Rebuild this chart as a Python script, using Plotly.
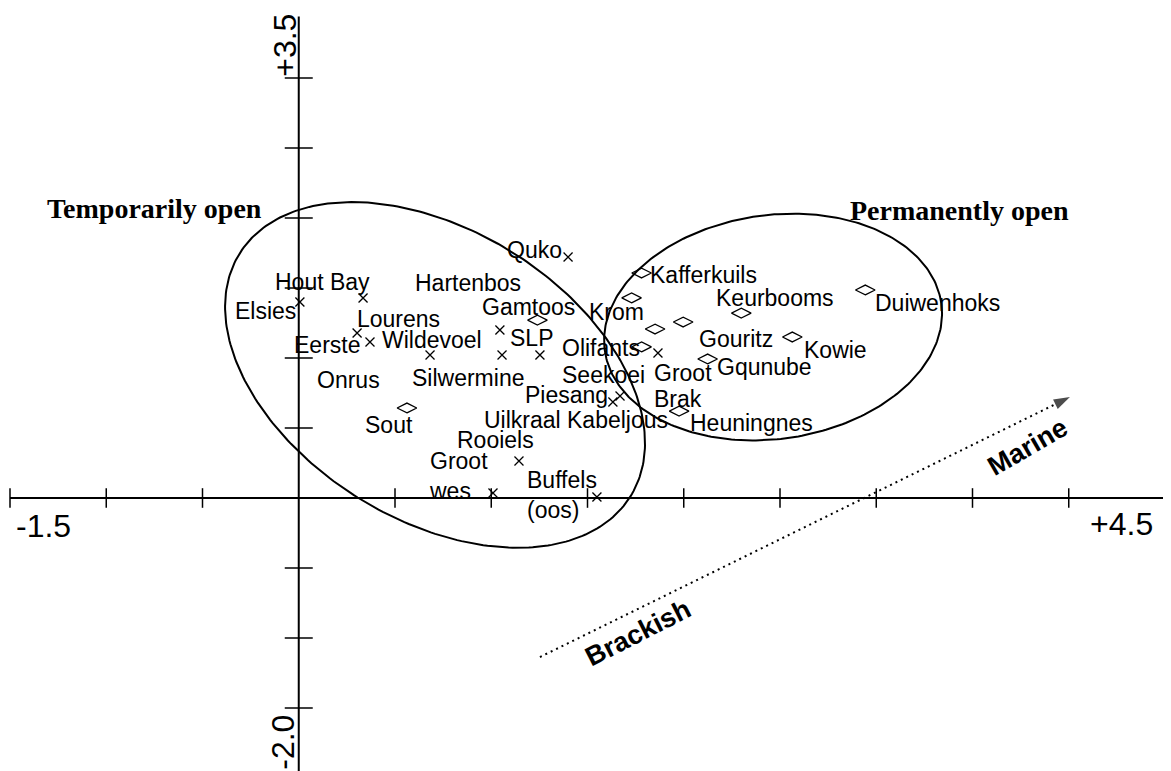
import numpy as np
import plotly.graph_objects as go

# ---------------- data ----------------
# temporarily open estuaries (cross markers)
cross_x = [0.006, 0.334, 0.303, 0.370, 0.682, 1.045, 1.056, 1.253, 1.399, 1.144, 1.009, 1.549, 1.669, 1.632, 1.866]
cross_y = [1.400, 1.429, 1.179, 1.114, 1.021, 1.200, 1.021, 1.021, 1.721, 0.264, 0.036, 0.007, 0.729, 0.686, 1.036]
# permanently open estuaries (open ellipse markers)
diam_x = [0.562, 1.240, 1.781, 1.729, 1.851, 1.997, 2.299, 2.564, 2.943, 1.781, 2.124, 1.976]
diam_y = [0.643, 1.271, 1.607, 1.429, 1.207, 1.257, 1.321, 1.150, 1.486, 1.079, 0.993, 0.621]

# site labels (left edge x, middle y)
label_text = ["Elsies", "Hout Bay", "Hartenbos", "Quko", "Gamtoos", "Lourens", "Eerste", "Wildevoel",
              "SLP", "Krom", "Olifants", "Onrus", "Silwermine", "Seekoei", "Groot", "Piesang", "Brak",
              "Sout", "Uilkraal", "Kabeljous", "Heuningnes", "Rooiels", "Groot<br>wes", "Buffels<br>(oos)",
              "Gqunube", "Kowie", "Duiwenhoks", "Keurbooms", "Kafferkuils", "Gouritz"]
label_x = [-0.342, -0.134, 0.594, 1.071, 0.942, 0.292, -0.035, 0.422,
           1.087, 1.497, 1.357, 0.084, 0.578, 1.357, 1.835, 1.165, 1.835,
           0.334, 0.952, 1.383, 2.022, 0.812, 0.666, 1.175,
           2.162, 2.615, 2.983, 2.157, 1.814, 2.069]
label_y = [1.336, 1.543, 1.536, 1.771, 1.364, 1.279, 1.093, 1.129,
           1.143, 1.329, 1.071, 0.843, 0.857, 0.879, 0.893, 0.736, 0.707,
           0.521, 0.557, 0.557, 0.536, 0.414, 0.157, 0.021,
           0.936, 1.057, 1.393, 1.429, 1.593, 1.136]

# axes extents and ticks
axis_x_range = [-1.5, 4.5]
axis_y_range = [-2.0, 3.44]
x_ticks = [-1.5, -1.0, -0.5, 0.5, 1.0, 1.5, 2.0, 2.5, 3.0, 3.5, 4.0, 4.5]
y_ticks = [-1.5, -1.0, -0.5, 0.5, 1.0, 1.5, 2.0, 2.5, 3.0]
x_end_labels = ["-1.5", "+4.5"]
y_end_labels = ["-2.0", "+3.5"]

# group ellipses: centre and two conjugate semi-axis vectors
ell_temp = dict(c=(0.708, 0.879), u=(1.016, -0.866), v=(-0.397, -0.880))
ell_perm = dict(c=(2.464, 1.221), u=(0.874, 0.169), v=(0.081, -0.792))

# salinity gradient vector (Brackish -> Marine)
grad_x = [1.253, 4.006]
grad_y = [-1.136, 0.721]

# ---------------- figure ----------------
fig = go.Figure()
BLACK = "#000000"

def ellipse(e):
    t = np.linspace(0, 2 * np.pi, 300)
    xs = e["c"][0] + e["u"][0] * np.cos(t) + e["v"][0] * np.sin(t)
    ys = e["c"][1] + e["u"][1] * np.cos(t) + e["v"][1] * np.sin(t)
    return xs, ys

# axes lines
fig.add_trace(go.Scatter(x=axis_x_range, y=[0, 0], mode="lines",
                         line=dict(color=BLACK, width=2), hoverinfo="skip"))
fig.add_trace(go.Scatter(x=[0, 0], y=[-2.1, axis_y_range[1]], mode="lines",
                         line=dict(color=BLACK, width=2), hoverinfo="skip"))
# tick marks
fig.add_trace(go.Scatter(x=x_ticks, y=[0] * len(x_ticks), mode="markers",
                         marker=dict(symbol="line-ns", size=14, color=BLACK,
                                     line=dict(color=BLACK, width=1.5)),
                         hoverinfo="skip"))
fig.add_trace(go.Scatter(x=[0] * len(y_ticks), y=y_ticks, mode="markers",
                         marker=dict(symbol="line-ew", size=20, color=BLACK,
                                     line=dict(color=BLACK, width=1.5)),
                         hoverinfo="skip"))

# ellipses
for e in (ell_temp, ell_perm):
    ex, ey = ellipse(e)
    fig.add_trace(go.Scatter(x=ex, y=ey, mode="lines", line=dict(color=BLACK, width=2),
                             hoverinfo="skip"))

# gradient arrow
fig.add_trace(go.Scatter(x=grad_x, y=grad_y, mode="lines+markers",
                         line=dict(color=BLACK, width=2, dash="2px,4px"),
                         marker=dict(symbol=["circle", "arrow"], size=[0, 17], angleref="previous",
                                     color=BLACK, line=dict(width=0)),
                         hoverinfo="skip"))

# site markers
fig.add_trace(go.Scatter(x=cross_x, y=cross_y, mode="markers",
                         marker=dict(symbol="x-thin-open", size=9, color=BLACK,
                                     line=dict(color=BLACK, width=1.3))))
fig.add_trace(go.Scatter(x=diam_x, y=diam_y, mode="markers",
                         marker=dict(symbol="diamond-wide-open", size=14, color=BLACK,
                                     line=dict(color=BLACK, width=1.3))))

ann = []
for t, x, y in zip(label_text, label_x, label_y):
    ann.append(dict(x=x, y=y, text=t, showarrow=False, xanchor="left", yanchor="middle", align="left",
                    font=dict(family="Liberation Sans, Arial", size=23, color=BLACK)))

# group titles
ann.append(dict(x=-1.318, y=2.071, text="<b>Temporarily open</b>", showarrow=False, xanchor="left",
                yanchor="middle", font=dict(family="Liberation Serif, Times New Roman", size=28, color=BLACK)))
ann.append(dict(x=2.854, y=2.057, text="<b>Permanently open</b>", showarrow=False, xanchor="left",
                yanchor="middle", font=dict(family="Liberation Serif, Times New Roman", size=28, color=BLACK)))

# axis end labels
tick_font = dict(family="Liberation Sans, Arial", size=32, color=BLACK)
ann.append(dict(x=axis_x_range[0], y=0, text=x_end_labels[0], showarrow=False, xanchor="left", yanchor="top",
                xshift=4, yshift=-8, font=tick_font))
ann.append(dict(x=axis_x_range[1], y=0, text=x_end_labels[1], showarrow=False, xanchor="right", yanchor="top",
                xshift=-10, yshift=-6, font=tick_font))
ann.append(dict(x=0, y=3.5, text=y_end_labels[1], showarrow=False, xanchor="center", yanchor="middle",
                textangle=-90, xshift=-14, yshift=-37, font=tick_font))
ann.append(dict(x=0, y=-2.0, text=y_end_labels[0], showarrow=False, xanchor="center", yanchor="middle",
                textangle=-90, xshift=-16, yshift=36, font=tick_font))

# gradient labels
grad_font = dict(family="Liberation Sans, Arial", size=27, color=BLACK)
ann.append(dict(x=3.785, y=0.367, text="<b>Marine</b>", showarrow=False, textangle=-30, font=grad_font))
ann.append(dict(x=1.762, y=-0.964, text="<b>Brackish</b>", showarrow=False, textangle=-27, font=grad_font))

# page body adds an 8px offset; origin sits at (290.75, 490) figure pixels, 192.5 / 140 px per unit
fig.update_layout(
    width=1171, height=771,
    margin=dict(l=0, r=0, t=0, b=0),
    paper_bgcolor="white", plot_bgcolor="white",
    showlegend=False,
    xaxis=dict(range=[-290.75 / 192.5, (1171 - 290.75) / 192.5], visible=False, fixedrange=True),
    yaxis=dict(range=[-(771 - 490) / 140, 490 / 140], visible=False, fixedrange=True),
    annotations=ann,
)

fig.write_html("out.html")
